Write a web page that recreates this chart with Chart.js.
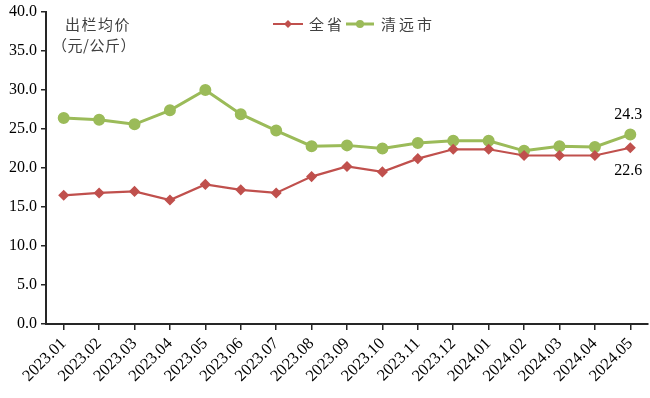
<!DOCTYPE html>
<html>
<head>
<meta charset="utf-8">
<script src="https://cdn.jsdelivr.net/npm/chart.js@4.4.1/dist/chart.umd.min.js"></script>
<style>
    html, body { margin: 0; padding: 0; background: #fff; }
    #wrap { width: 650px; height: 398px; }
</style>
</head>
<body>
<div id="wrap"><canvas id="priceChart" width="650" height="398"></canvas></div>
<script>
// ===== DATA =====
const months = ["2023.01", "2023.02", "2023.03", "2023.04", "2023.05", "2023.06", "2023.07", "2023.08",
    "2023.09", "2023.10", "2023.11", "2023.12", "2024.01", "2024.02", "2024.03", "2024.04", "2024.05"];
const provinceName = "全省";
const cityName = "清远市";
const provincePrice = [16.5, 16.8, 17.0, 15.9, 17.9, 17.2, 16.8, 18.9, 20.2, 19.5, 21.2, 22.4, 22.4, 21.6, 21.6, 21.6, 22.6];
const cityPrice = [26.4, 26.2, 25.6, 27.4, 30.0, 26.9, 24.8, 22.8, 22.9, 22.5, 23.2, 23.5, 23.5, 22.2, 22.8, 22.7, 24.3];
const yTicks = [0, 5, 10, 15, 20, 25, 30, 35, 40];
const yTitle = ["出栏均价", "（元/公斤）"];

const RED = "#C0504D";
const GREEN = "#9BBB59";
const AXIS = "#262626";
const SERIF = "'Liberation Serif', 'Times New Roman', serif";
const CJK = "'Noto Sans CJK SC', sans-serif";

// ===== TEXT EXTRAS: y title, legend, end labels =====
function spacedText(ctx, str, x, y, gap) {
    for (const ch of str) {
        ctx.fillText(ch, x, y);
        x += ctx.measureText(ch).width + gap;
    }
}

function drawMarker(ctx, kind, x, y, r, color) {
    ctx.fillStyle = color;
    ctx.beginPath();
    if (kind === "diamond") {
        ctx.moveTo(x, y - r); ctx.lineTo(x + r, y); ctx.lineTo(x, y + r); ctx.lineTo(x - r, y);
        ctx.closePath();
    } else {
        ctx.arc(x, y, r, 0, Math.PI * 2);
    }
    ctx.fill();
}

const extras = {
    id: "extras",
    afterDraw(chart) {
        const ctx = chart.ctx;
        ctx.save();

        // y axis title inside the plot
        ctx.fillStyle = "#404040";
        ctx.font = "15px " + CJK;
        ctx.textBaseline = "middle";
        ctx.textAlign = "left";
        spacedText(ctx, yTitle[0], 65, 24, 1.5);
        spacedText(ctx, yTitle[1], 52, 45, 0.5);

        // legend
        ctx.lineWidth = 2;
        ctx.strokeStyle = RED;
        ctx.beginPath(); ctx.moveTo(273, 24); ctx.lineTo(303, 24); ctx.stroke();
        drawMarker(ctx, "diamond", 288, 24, 4, RED);
        ctx.fillStyle = "#404040";
        spacedText(ctx, provinceName, 309, 24, 3);

        ctx.lineWidth = 3;
        ctx.strokeStyle = GREEN;
        ctx.beginPath(); ctx.moveTo(346, 24); ctx.lineTo(374, 24); ctx.stroke();
        drawMarker(ctx, "circle", 360, 24, 4, GREEN);
        ctx.fillStyle = "#404040";
        spacedText(ctx, cityName, 381, 24, 3);

        // labels on the last point
        const x = chart.scales.x;
        const y = chart.scales.y;
        const last = months.length - 1;
        ctx.fillStyle = "#000";
        ctx.font = "16px " + SERIF;
        ctx.textAlign = "center";
        ctx.fillText(cityPrice[last].toFixed(1), x.getPixelForValue(last) - 2, y.getPixelForValue(cityPrice[last]) - 20);
        ctx.fillText(provincePrice[last].toFixed(1), x.getPixelForValue(last) - 2, y.getPixelForValue(provincePrice[last]) + 23);

        ctx.restore();
    }
};

// fixed axis sizes, no extra padding for rotated / edge labels
function noPad(s) {
    s.paddingLeft = 0; s.paddingRight = 0; s.paddingTop = 0; s.paddingBottom = 0;
}

// ===== CHART =====
new Chart(document.getElementById("priceChart"), {
    type: "line",
    data: {
        labels: months,
        datasets: [
            {
                label: provinceName,
                data: provincePrice,
                borderColor: RED,
                backgroundColor: RED,
                borderWidth: 2.2,
                pointStyle: "rectRot",
                pointRadius: 4,
                pointHoverRadius: 4,
                tension: 0
            },
            {
                label: cityName,
                data: cityPrice,
                borderColor: GREEN,
                backgroundColor: GREEN,
                borderWidth: 3,
                pointStyle: "circle",
                pointRadius: 4.5,
                pointHoverRadius: 4.5,
                tension: 0
            }
        ]
    },
    options: {
        responsive: false,
        animation: false,
        layout: { autoPadding: false, padding: { top: 12, right: 2, left: 0, bottom: 0 } },
        plugins: {
            legend: { display: false },
            tooltip: { enabled: false }
        },
        scales: {
            x: {
                offset: true,
                grid: { display: true, drawOnChartArea: false, offset: false, tickLength: 6, color: AXIS, lineWidth: 1.5 },
                border: { color: AXIS, width: 2 },
                ticks: { color: "#000", font: { family: SERIF, size: 16.5 }, minRotation: 45, maxRotation: 45, padding: 4, autoSkip: false },
                afterFit: s => { s.height = 74; noPad(s); }
            },
            y: {
                min: 0,
                max: 40,
                afterBuildTicks: s => { s.ticks = yTicks.map(v => ({ value: v })); },
                grid: { display: true, drawOnChartArea: false, tickLength: 5, color: AXIS, lineWidth: 1.5 },
                border: { color: AXIS, width: 2 },
                ticks: { color: "#000", font: { family: SERIF, size: 16 }, padding: 4, callback: v => v.toFixed(1) },
                afterFit: s => { s.width = 46; noPad(s); }
            }
        }
    },
    plugins: [extras]
});
</script>
</body>
</html>
